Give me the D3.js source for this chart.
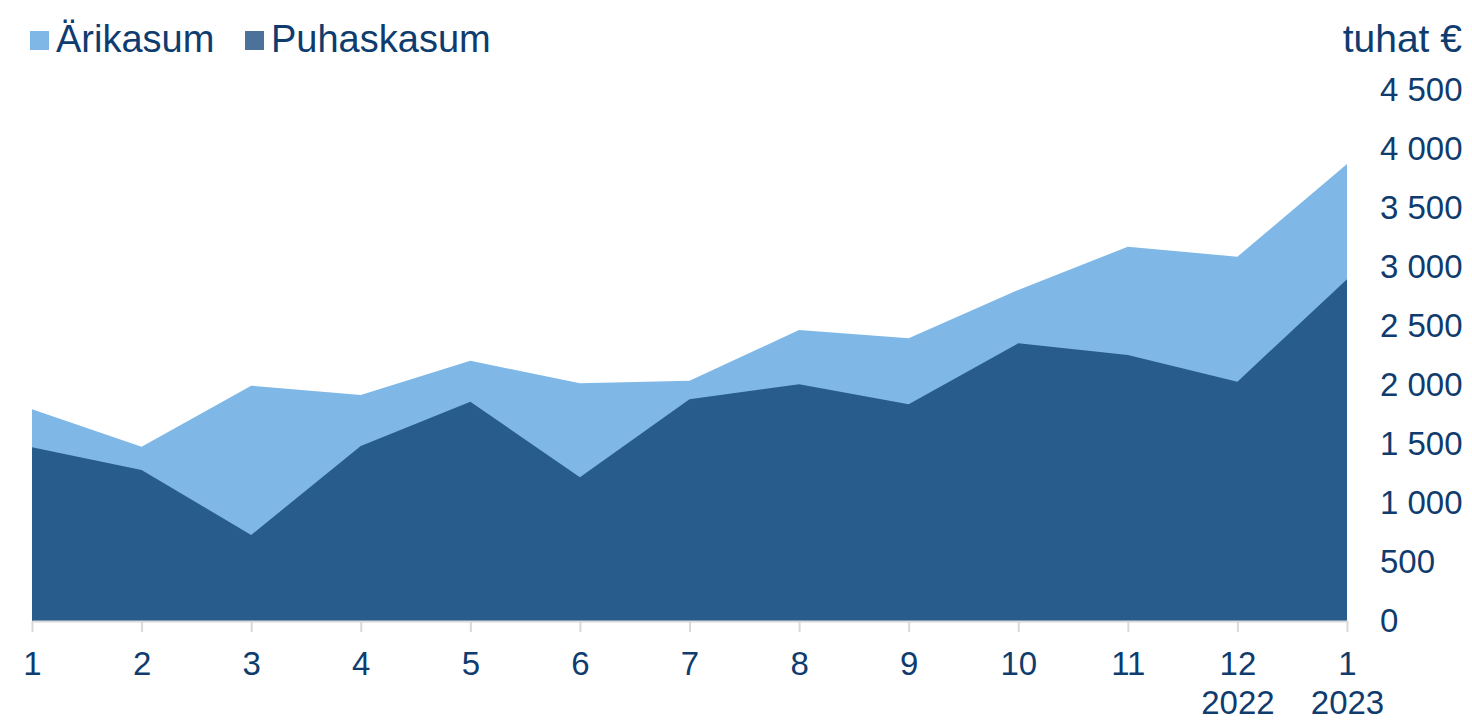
<!DOCTYPE html>
<html lang="et">
<head>
<meta charset="UTF-8">
<title>Ärikasum ja puhaskasum</title>
<script src="https://d3js.org/d3.v7.min.js"></script>
<style>
    html, body { margin: 0; padding: 0; background: #fff; }
    svg { font-family: "Liberation Sans", Arial, sans-serif; }
    .axis text { fill: #0f3c6e; font-size: 33px; }
    .x.axis .domain, .x.axis line { stroke: #d9d9d9; stroke-width: 2; }
    .y.axis .domain { display: none; }
    .legend text { fill: #0f3c6e; font-size: 38px; }
</style>
</head>
<body>
<div id="chart"></div>
<script>
// months (last one is January of next year)
var months = ["1", "2", "3", "4", "5", "6", "7", "8", "9", "10", "11", "12", "1"];
var years = {11: "2022", 12: "2023"};

// values in thousand euros
var arikasum   = [1794, 1477, 1994, 1915, 2206, 2014, 2036, 2466, 2396, 2805, 3172, 3087, 3873];
var puhaskasum = [1472, 1280,  729, 1483, 1858, 1218, 1879, 2006, 1836, 2353, 2254, 2028, 2896];

var yTicks = [0, 500, 1000, 1500, 2000, 2500, 3000, 3500, 4000, 4500];

var W = 1472, H = 721;
var margin = {top: 90, right: 125, bottom: 100, left: 32};
var width = W - margin.left - margin.right,
    height = H - margin.top - margin.bottom;

var svg = d3.select("#chart").append("svg")
    .attr("width", W)
    .attr("height", H);

var g = svg.append("g")
    .attr("transform", "translate(" + margin.left + "," + margin.top + ")");

var x = d3.scaleLinear().domain([0, months.length - 1]).range([0, width]);
var y = d3.scaleLinear().domain([0, 4500]).range([height, 0]);

var fmt = d3.formatLocale({decimal: ",", thousands: "\u00a0", grouping: [3], currency: ["", " €"]}).format(",d");

function area(vals) {
    return d3.area()
        .x(function(d, i) { return x(i); })
        .y0(y(0))
        .y1(function(d) { return y(d); })(vals);
}

// areas overlap, both start from zero
g.append("path").attr("d", area(arikasum)).attr("fill", "#7fb8e6");
g.append("path").attr("d", area(puhaskasum)).attr("fill", "#285c8c");

// x axis
var xAxis = g.append("g")
    .attr("class", "x axis")
    .attr("transform", "translate(0," + height + ")")
    .call(d3.axisBottom(x)
        .tickValues(d3.range(months.length))
        .tickSize(11)
        .tickSizeOuter(0)
        .tickPadding(20)
        .tickFormat(function(i) { return months[i]; }));

xAxis.selectAll(".tick").filter(function(i) { return years[i]; })
    .append("text")
    .attr("y", 93)
    .attr("text-anchor", "middle")
    .text(function(i) { return years[i]; });

// y axis on the right
var yAxis = g.append("g")
    .attr("class", "y axis")
    .attr("transform", "translate(" + (width + 33) + ",0)")
    .call(d3.axisRight(y)
        .tickValues(yTicks)
        .tickSize(0)
        .tickPadding(0)
        .tickFormat(fmt));

svg.append("text")
    .attr("x", 1462)
    .attr("y", 52)
    .attr("text-anchor", "end")
    .style("fill", "#0f3c6e")
    .style("font-size", "39px")
    .text("tuhat €");

// legend
var legendItems = [
    {label: "Ärikasum", color: "#7fb8e6", x: 30},
    {label: "Puhaskasum", color: "#4d7299", x: 245}
];
var legend = svg.append("g").attr("class", "legend");
legendItems.forEach(function(d) {
    legend.append("rect")
        .attr("x", d.x).attr("y", 31)
        .attr("width", 19).attr("height", 19)
        .attr("fill", d.color);
    legend.append("text")
        .attr("x", d.x + 26).attr("y", 52)
        .text(d.label);
});
</script>
</body>
</html>
